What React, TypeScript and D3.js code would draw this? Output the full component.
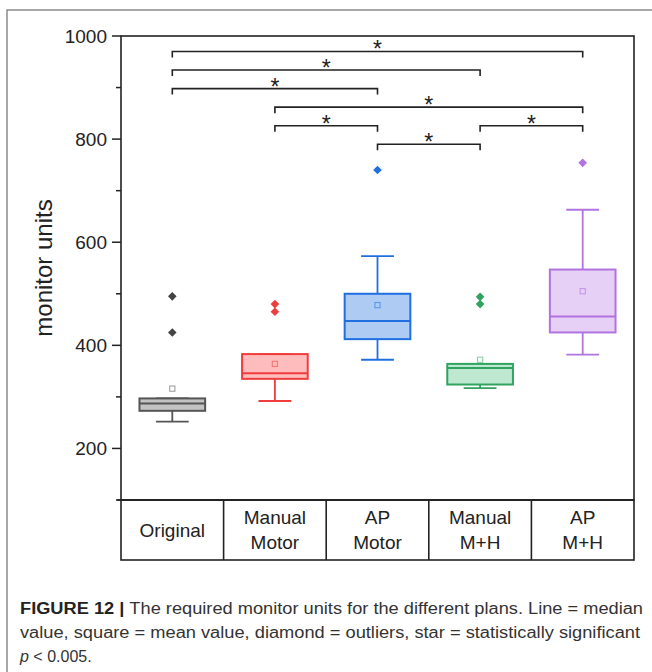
import * as d3 from 'd3'

const categories = ['Original', 'Manual Motor', 'AP Motor', 'Manual M+H', 'AP M+H']
const categoryLines = [['Original'], ['Manual', 'Motor'], ['AP', 'Motor'], ['Manual', 'M+H'], ['AP', 'M+H']]

// box statistics
const whiskerLow = [252, 292, 372, 317, 382]
const q1 = [273, 335, 412, 324, 425]
const median = [287, 346, 447, 356, 456]
const q3 = [297, 383, 500, 364, 547]
const whiskerHigh = [297, 383, 573, 364, 663]
const means = [316, 364, 478, 372, 505]
const outliers = [[495, 425], [480, 465], [740], [494, 480], [754]]

// significance brackets: [from, to, level]
const brackets: [number, number, number][] = [
  [0, 4, 970],
  [0, 3, 934],
  [0, 2, 898],
  [1, 4, 862],
  [1, 2, 826],
  [3, 4, 826],
  [2, 3, 790],
]

const yMajorTicks = [200, 400, 600, 800, 1000]
const yMinorTicks = [100, 300, 500, 700, 900]

const strokeColors = ['#555555', '#f03c3c', '#1f6fe0', '#2fa35f', '#b173e0']
const fillColors = ['#c3c3c3', '#ffbcbc', '#aecbf4', '#bfe8d1', '#e7d0f5']
const meanColors = ['#a0a0a0', '#f07878', '#5c98e8', '#88d0a6', '#c595ea']

const caption1 = 'The required monitor units for the different plans. Line = median'
const caption2 = 'value, square = mean value, diamond = outliers, star = statistically significant'

const App = () => {
  const width = 652
  const height = 672
  const left = 121
  const right = 634
  const top = 36
  const bottom = 500
  const tableBottom = 560

  const x = d3.scaleBand().domain(categories).range([left, right]).padding(0)
  const y = d3.scaleLinear().domain([100, 1000]).range([bottom, top])
  const bw = x.bandwidth()
  const boxW = bw * 0.64
  const capW = bw * 0.32
  const cx = (i: number) => (x(categories[i]) as number) + bw / 2
  const font = 'Liberation Sans, Arial, sans-serif'

  return (
    <svg width={width} height={height} style={{ position: 'absolute', left: 0, top: 0 }} fontFamily={font}>
      <rect x={0} y={0} width={width} height={height} fill="#fff" />
      <rect x={7} y={10} width={700} height={700} fill="none" stroke="#8a8a8a" strokeWidth={1.5} />

      {/* plot frame */}
      <rect x={left} y={top} width={right - left} height={bottom - top} fill="none" stroke="#222" strokeWidth={1.6} />

      {/* y axis ticks */}
      {yMajorTicks.map((t) => (
        <g key={'M' + t}>
          <line x1={left - 9} x2={left} y1={y(t)} y2={y(t)} stroke="#222" strokeWidth={1.5} />
          <text x={left - 14} y={y(t)} dy="0.36em" textAnchor="end" fontSize={19} fill="#222">{t}</text>
        </g>
      ))}
      {yMinorTicks.map((t) => (
        <line key={'m' + t} x1={left - 5} x2={left} y1={y(t)} y2={y(t)} stroke="#222" strokeWidth={1.5} />
      ))}
      <text transform={`translate(52,268) rotate(-90)`} textAnchor="middle" fontSize={24} fill="#222">
        monitor units
      </text>

      {/* brackets */}
      {brackets.map(([a, b, v], i) => {
        const yy = y(v)
        const x1 = cx(a)
        const x2 = cx(b)
        return (
          <g key={'b' + i}>
            <path d={`M${x1},${yy + 6}V${yy}H${x2}V${yy + 6}`} fill="none" stroke="#222" strokeWidth={1.6} />
            <text x={(x1 + x2) / 2} y={yy + 6} textAnchor="middle" fontSize={23} fill="#222">*</text>
          </g>
        )
      })}

      {/* boxes */}
      {categories.map((c, i) => {
        const xc = cx(i)
        const sc = strokeColors[i]
        return (
          <g key={c}>
            <line x1={xc} x2={xc} y1={y(whiskerLow[i])} y2={y(q1[i])} stroke={sc} strokeWidth={1.8} />
            <line x1={xc} x2={xc} y1={y(whiskerHigh[i])} y2={y(q3[i])} stroke={sc} strokeWidth={1.8} />
            <line x1={xc - capW / 2} x2={xc + capW / 2} y1={y(whiskerLow[i])} y2={y(whiskerLow[i])} stroke={sc} strokeWidth={1.8} />
            <line x1={xc - capW / 2} x2={xc + capW / 2} y1={y(whiskerHigh[i])} y2={y(whiskerHigh[i])} stroke={sc} strokeWidth={1.8} />
            <rect x={xc - boxW / 2} y={y(q3[i])} width={boxW} height={y(q1[i]) - y(q3[i])} fill={fillColors[i]} stroke={sc} strokeWidth={2} />
            <line x1={xc - boxW / 2} x2={xc + boxW / 2} y1={y(median[i])} y2={y(median[i])} stroke={sc} strokeWidth={2} />
            <rect x={xc - 2.6} y={y(means[i]) - 2.6} width={5.2} height={5.2} fill="none" stroke={meanColors[i]} strokeWidth={1.1} />
            {outliers[i].map((o, j) => (
              <path key={j} d={`M${xc},${y(o) - 4.3}L${xc + 4.3},${y(o)}L${xc},${y(o) + 4.3}L${xc - 4.3},${y(o)}Z`} fill={i === 0 ? '#444' : sc} />
            ))}
          </g>
        )
      })}

      {/* category table */}
      <line x1={left - 4} x2={right} y1={bottom} y2={bottom} stroke="#222" strokeWidth={1.6} />
      <rect x={left} y={bottom} width={right - left} height={tableBottom - bottom} fill="none" stroke="#222" strokeWidth={1.6} />
      {categories.slice(1).map((c) => (
        <line key={'d' + c} x1={x(c)} x2={x(c)} y1={bottom} y2={tableBottom} stroke="#222" strokeWidth={1.6} />
      ))}
      {categoryLines.map((lines, i) => {
        const mid = (bottom + tableBottom) / 2
        return lines.map((ln, j) => (
          <text
            key={i + '-' + j}
            x={cx(i)}
            y={mid + (j - (lines.length - 1) / 2) * 25}
            dy="0.36em"
            textAnchor="middle"
            fontSize={19}
            fill="#222"
          >
            {ln}
          </text>
        ))
      })}

      {/* caption */}
      <text x={20} y={614} fontSize={16} fill="#333" textLength={623} lengthAdjust="spacingAndGlyphs">
        <tspan fontWeight="bold" fill="#222">FIGURE 12 | </tspan>
        {caption1}
      </text>
      <text x={20} y={638} fontSize={16} fill="#333" textLength={620} lengthAdjust="spacingAndGlyphs">
        {caption2}
      </text>
      <text x={20} y={662} fontSize={16} fill="#333">
        <tspan fontStyle="italic">p</tspan> {'< 0.005.'}
      </text>
    </svg>
  )
}

export default App
